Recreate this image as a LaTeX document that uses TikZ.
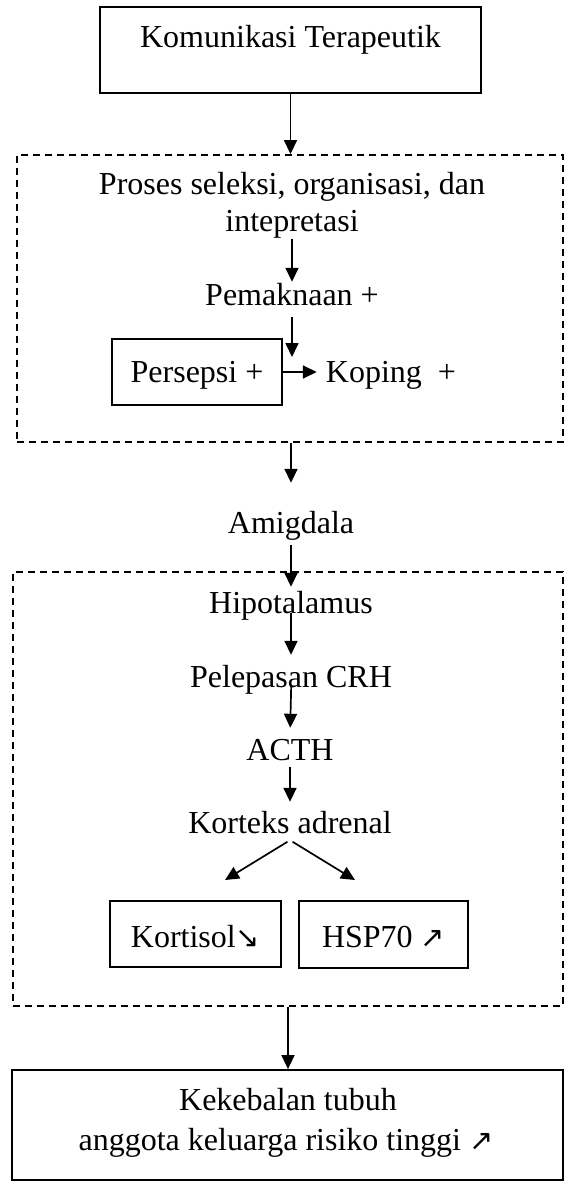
\documentclass[tikz,border=0pt]{standalone}
\usepackage{fontspec}
\setmainfont{Liberation Serif}
\newfontfamily\arrowfont{DejaVu Sans}
\usetikzlibrary{arrows.meta}
\newcommand\nearr{{\arrowfont\fontsize{29}{29}\selectfont ↗}}
\newcommand\searr{{\arrowfont\fontsize{29}{29}\selectfont ↘}}
\begin{document}
\begin{tikzpicture}[x=1pt,y=-1pt,
  txt/.style={font=\fontsize{32}{38}\selectfont, inner sep=0pt, text height=23pt, text depth=7pt, anchor=base},
  solidbox/.style={draw, line width=1.8pt, inner sep=0pt},
  dashbox/.style={draw, line width=1.9pt, inner sep=0pt, dash pattern=on 7pt off 5pt},
  arr/.style={-{Triangle[length=14pt,width=13pt]}, line width=1.7pt}]
\useasboundingbox (0,0) rectangle (566,1182);

% boxes
\node[solidbox, minimum width=381pt, minimum height=86pt] (topbox) at (290.5,50) {};
\node[dashbox, minimum width=546pt, minimum height=287pt] (dash1) at (290,298.5) {};
\node[solidbox, minimum width=170pt, minimum height=66pt] (persbox) at (197,372) {};
\node[dashbox, minimum width=550pt, minimum height=434pt] (dash2) at (288,789) {};
\node[solidbox, minimum width=171pt, minimum height=66pt] (kortbox) at (195.5,934) {};
\node[solidbox, minimum width=169pt, minimum height=67pt] (hspbox) at (383.5,934.5) {};
\node[solidbox, minimum width=551pt, minimum height=110pt] (botbox) at (287.5,1125) {};

% texts
\node[txt] (komtxt) at (290.5,48) {Komunikasi Terapeutik};
\node[txt] (pros1) at (292,195) {Proses seleksi, organisasi, dan};
\node[txt] (pros2) at (292,232) {intepretasi};
\node[txt] (pemak) at (292,305) {Pemaknaan +};
\node[txt] (persepsi) at (197,382) {Persepsi +};
\node[txt] (koping) at (391,382) {Koping\ \ +};
\node[txt] (amig) at (291,533) {Amigdala};
\node[txt] (hipo) at (291,613) {Hipotalamus};
\node[txt] (crh) at (291,687) {Pelepasan CRH};
\node[txt] (acth) at (290,760) {ACTH};
\node[txt] (kort) at (290,833) {Korteks adrenal};
\node[txt] (kortisol) at (195.5,947) {Kortisol\searr};
\node[txt] (hsp) at (383.5,947) {HSP70 \nearr};
\node[txt] (kek1) at (288,1110) {Kekebalan tubuh};
\node[txt] (kek2) at (286,1150) {anggota keluarga risiko tinggi \nearr};

\coordinate (tipL) at (225,880);
\coordinate (tipR) at (355,880);

% connectors
\draw[arr] (topbox.south) -- (topbox.south |- dash1.north);
\draw[arr] (pros2.south) -- (pemak.north);
\draw[arr, shorten <=5pt, shorten >=15pt] (pemak.south) -- (pemak.south |- persbox.center);
\draw[arr, shorten >=9pt] (persbox.east) -- (persbox.east -| koping.west);
\draw[arr, shorten >=27pt] (amig.north |- dash1.south) -- (amig.north);
\draw[arr, shorten <=5pt, shorten >=3pt] (amig.south) -- (hipo.north);
\draw[arr, shorten <=-7pt, shorten >=9pt] (hipo.south) -- (crh.north);
\draw[arr, shorten <=-9pt, shorten >=9pt] (crh.south) -- (acth.north);
\draw[arr, shorten >=8pt] (acth.south) -- (kort.north);
\draw[arr, shorten <=3pt] (kort.south) -- (tipL);
\draw[arr, shorten <=3pt] (kort.south) -- (tipR);
\draw[arr] (dash2.south) -- (dash2.south |- botbox.north);
\end{tikzpicture}
\end{document}
